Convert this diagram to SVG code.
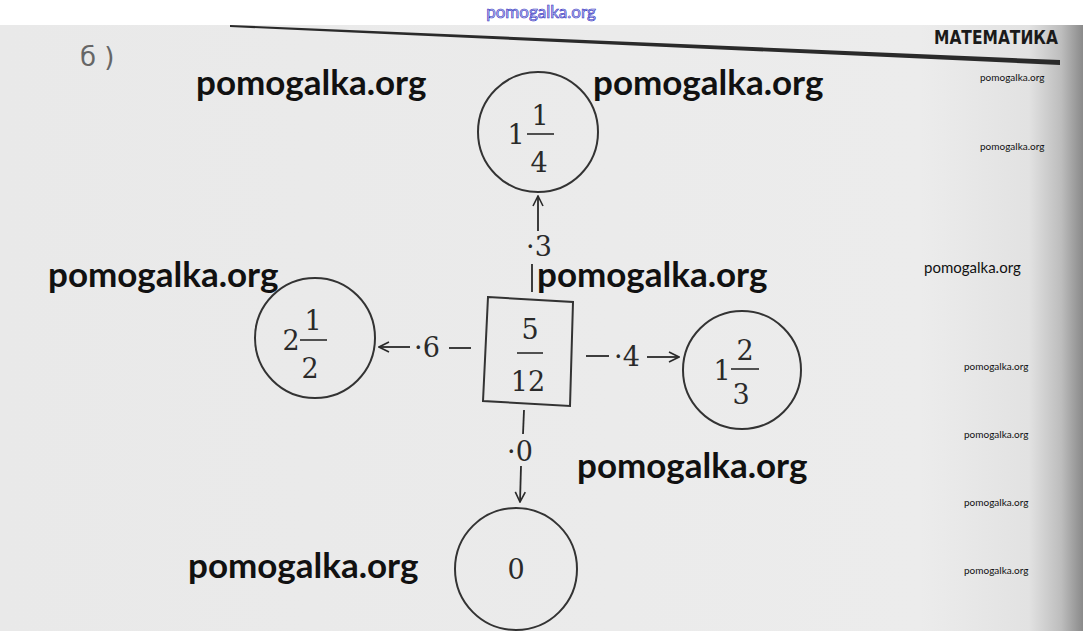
<svg xmlns="http://www.w3.org/2000/svg" width="1083" height="631" viewBox="0 0 1083 631">
<defs>
<linearGradient id="page" x1="0" y1="0" x2="1" y2="0">
<stop offset="0" stop-color="#e9e9e9"/>
<stop offset="0.85" stop-color="#ececec"/>
<stop offset="0.95" stop-color="#e2e2e2"/>
<stop offset="0.98" stop-color="#bdbdbd"/>
<stop offset="1" stop-color="#8a8a8a"/>
</linearGradient>
<marker id="ah" viewBox="0 0 12 12" refX="11" refY="6" markerWidth="12" markerHeight="12" markerUnits="userSpaceOnUse" orient="auto">
<path d="M1,1 L11,6 L1,11" fill="none" stroke="#2a2a2a" stroke-width="1.6"/>
</marker>
<style>
.node{fill:none;stroke:#333;stroke-width:2}
.m{font-family:"DejaVu Serif","Liberation Serif",serif;font-size:27px;fill:#2a2a2a;text-anchor:middle}
.bar{stroke:#2a2a2a;stroke-width:1.6}
.ln{stroke:#2a2a2a;stroke-width:1.8;fill:none}
.wm{font-family:Lato,"Open Sans",sans-serif;font-weight:bold;font-size:35px;fill:#111}
.ws{font-family:Lato,"Open Sans",sans-serif;font-size:10px;fill:#111}
</style>
</defs>
<rect x="0" y="0" width="1083" height="631" fill="url(#page)"/>
<rect x="0" y="0" width="1083" height="25" fill="#fff"/>
<text x="541" y="18" text-anchor="middle" font-family="Lato,'Open Sans',sans-serif" font-size="17" fill="#c8c8f0" stroke="#2b2bc0" stroke-width="0.6">pomogalka.org</text>
<path d="M230,25 L1060,60 L1060,65 L230,27 Z" fill="#2a2a2a"/>
<text x="1058" y="44" text-anchor="end" font-family="'DejaVu Sans Condensed','Liberation Sans Narrow',sans-serif" font-weight="bold" font-size="20" fill="#1a1a1a" textLength="124" lengthAdjust="spacingAndGlyphs">МАТЕМАТИКА</text>
<text x="80" y="66" font-family="'DejaVu Sans','Liberation Sans',sans-serif" font-size="26" fill="#666">б )</text>

<g id="connectors">
<line class="ln" x1="532" y1="292" x2="532" y2="264"/>
<text class="m" x="539" y="256">·3</text>
<line class="ln" x1="538" y1="231" x2="538" y2="196" marker-end="url(#ah)"/>
<line class="ln" x1="471" y1="348" x2="449" y2="348"/>
<text class="m" x="427" y="357">·6</text>
<line class="ln" x1="410" y1="347" x2="379" y2="347" marker-end="url(#ah)"/>
<line class="ln" x1="586" y1="356" x2="609" y2="356"/>
<text class="m" x="627" y="366">·4</text>
<line class="ln" x1="647" y1="357" x2="679" y2="357" marker-end="url(#ah)"/>
<line class="ln" x1="524" y1="410" x2="523" y2="434"/>
<text class="m" x="520" y="461">·0</text>
<line class="ln" x1="521" y1="466" x2="520" y2="502" marker-end="url(#ah)"/>
</g>

<g id="center">
<path class="node" d="M488,297 L573,302 L570,406 L483,401 Z"/>
<text class="m" x="530" y="339">5</text>
<line class="bar" x1="517" y1="353" x2="543" y2="353"/>
<text class="m" x="528" y="391">12</text>
</g>
<g id="top">
<circle class="node" cx="538" cy="132" r="60"/>
<text class="m" x="516" y="144">1</text>
<text class="m" x="540" y="125">1</text>
<line class="bar" x1="527" y1="134" x2="554" y2="134"/>
<text class="m" x="539" y="172">4</text>
</g>
<g id="left">
<circle class="node" cx="315" cy="338" r="60"/>
<text class="m" x="291" y="350">2</text>
<text class="m" x="313" y="330">1</text>
<line class="bar" x1="300" y1="340" x2="327" y2="340"/>
<text class="m" x="310" y="378">2</text>
</g>
<g id="right">
<circle class="node" cx="742" cy="370" r="59"/>
<text class="m" x="722" y="380">1</text>
<text class="m" x="745" y="360">2</text>
<line class="bar" x1="731" y1="369" x2="759" y2="369"/>
<text class="m" x="741" y="404">3</text>
</g>
<g id="bottom">
<circle class="node" cx="516" cy="569" r="61"/>
<text class="m" x="516" y="579">0</text>
</g>

<g id="watermarks">
<text class="wm" x="196" y="95">pomogalka.org</text>
<text class="wm" x="593" y="95">pomogalka.org</text>
<text class="wm" x="48" y="287">pomogalka.org</text>
<text class="wm" x="537" y="287">pomogalka.org</text>
<text class="wm" x="577" y="478">pomogalka.org</text>
<text class="wm" x="188" y="578">pomogalka.org</text>
<text class="ws" x="980" y="81">pomogalka.org</text>
<text class="ws" x="980" y="150">pomogalka.org</text>
<text class="ws" x="924" y="273" style="font-size:15px">pomogalka.org</text>
<text class="ws" x="964" y="370">pomogalka.org</text>
<text class="ws" x="964" y="438">pomogalka.org</text>
<text class="ws" x="964" y="506">pomogalka.org</text>
<text class="ws" x="964" y="574">pomogalka.org</text>
</g>
</svg>
